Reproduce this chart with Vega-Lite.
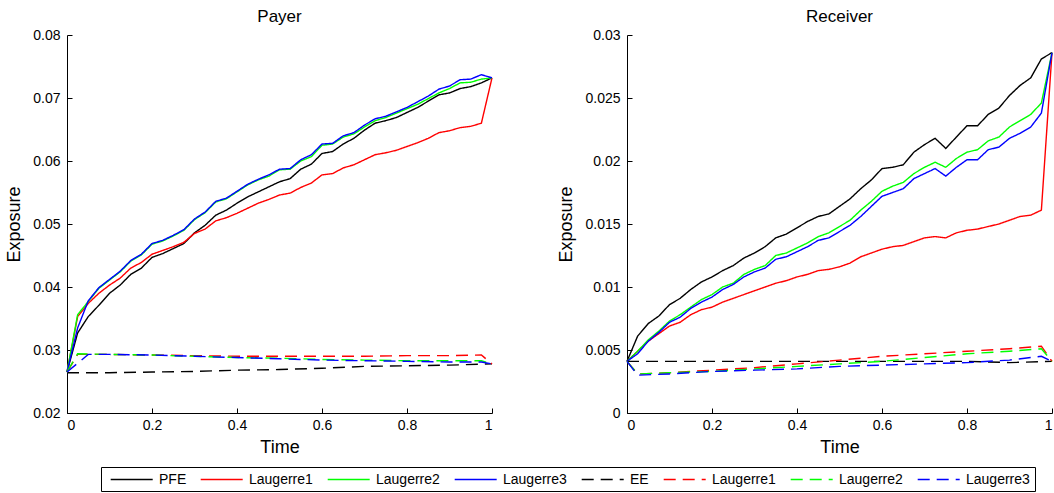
{
"$schema": "https://vega.github.io/schema/vega-lite/v6.json",
"padding": {"left": 5, "top": 8, "right": 0, "bottom": 0},
"background": "white",
"config": {
 "view": {"stroke": null},
 "font": "Liberation Sans",
 "axis": {"grid": false, "domainColor": "#000", "tickColor": "#000", "labelColor": "#000", "titleColor": "#000", "labelFont": "Liberation Sans", "titleFont": "Liberation Sans", "labelFontSize": 14, "titleFontSize": 18, "titleFontWeight": "normal", "tickSize": -5, "domainWidth": 1, "tickWidth": 1},
 "axisX": {"labelPadding": 10, "titlePadding": 6},
 "axisY": {"labelPadding": 12, "titlePadding": 9},
 "title": {"fontSize": 17, "fontWeight": "normal", "font": "Liberation Sans", "color": "#000", "offset": 2},
 "legend": {"title": null, "orient": "none", "legendX": 34, "legendY": 432, "direction": "horizontal", "columns": 8, "symbolType": "M-0.4,0H5.6", "symbolSize": 196, "symbolStrokeWidth": 1.4, "labelFontSize": 14, "labelColor": "#000", "labelFont": "Liberation Sans", "strokeColor": "#000", "fillColor": "#fff", "padding": 4.5, "columnPadding": 9, "labelOffset": 37.5, "labelLimit": 200}
},
"datasets": {"d": [
{"p":"P","s":"PFE","t":0,"v":0.0265},{"p":"P","s":"PFE","t":0.025,"v":0.0327},{"p":"P","s":"PFE","t":0.05,"v":0.0353},{"p":"P","s":"PFE","t":0.075,"v":0.0371},{"p":"P","s":"PFE","t":0.1,"v":0.0390},{"p":"P","s":"PFE","t":0.125,"v":0.0403},{"p":"P","s":"PFE","t":0.15,"v":0.0420},{"p":"P","s":"PFE","t":0.175,"v":0.0430},{"p":"P","s":"PFE","t":0.2,"v":0.0447},{"p":"P","s":"PFE","t":0.225,"v":0.0453},{"p":"P","s":"PFE","t":0.25,"v":0.0461},{"p":"P","s":"PFE","t":0.275,"v":0.0469},{"p":"P","s":"PFE","t":0.3,"v":0.0486},{"p":"P","s":"PFE","t":0.325,"v":0.0498},{"p":"P","s":"PFE","t":0.35,"v":0.0514},{"p":"P","s":"PFE","t":0.375,"v":0.0522},{"p":"P","s":"PFE","t":0.4,"v":0.0533},{"p":"P","s":"PFE","t":0.425,"v":0.0543},{"p":"P","s":"PFE","t":0.45,"v":0.0551},{"p":"P","s":"PFE","t":0.475,"v":0.0559},{"p":"P","s":"PFE","t":0.5,"v":0.0567},{"p":"P","s":"PFE","t":0.525,"v":0.0572},{"p":"P","s":"PFE","t":0.55,"v":0.0587},{"p":"P","s":"PFE","t":0.575,"v":0.0595},{"p":"P","s":"PFE","t":0.6,"v":0.0612},{"p":"P","s":"PFE","t":0.625,"v":0.0615},{"p":"P","s":"PFE","t":0.65,"v":0.0627},{"p":"P","s":"PFE","t":0.675,"v":0.0636},{"p":"P","s":"PFE","t":0.7,"v":0.0649},{"p":"P","s":"PFE","t":0.725,"v":0.0660},{"p":"P","s":"PFE","t":0.75,"v":0.0664},{"p":"P","s":"PFE","t":0.775,"v":0.0669},{"p":"P","s":"PFE","t":0.8,"v":0.0677},{"p":"P","s":"PFE","t":0.825,"v":0.0685},{"p":"P","s":"PFE","t":0.85,"v":0.0695},{"p":"P","s":"PFE","t":0.875,"v":0.0705},{"p":"P","s":"PFE","t":0.9,"v":0.0708},{"p":"P","s":"PFE","t":0.925,"v":0.0715},{"p":"P","s":"PFE","t":0.95,"v":0.0718},{"p":"P","s":"PFE","t":0.975,"v":0.0724},{"p":"P","s":"PFE","t":1,"v":0.0732},
{"p":"P","s":"Laugerre1","t":0,"v":0.0265},{"p":"P","s":"Laugerre1","t":0.025,"v":0.0353},{"p":"P","s":"Laugerre1","t":0.05,"v":0.0374},{"p":"P","s":"Laugerre1","t":0.075,"v":0.0390},{"p":"P","s":"Laugerre1","t":0.1,"v":0.0403},{"p":"P","s":"Laugerre1","t":0.125,"v":0.0414},{"p":"P","s":"Laugerre1","t":0.15,"v":0.0430},{"p":"P","s":"Laugerre1","t":0.175,"v":0.0439},{"p":"P","s":"Laugerre1","t":0.2,"v":0.0452},{"p":"P","s":"Laugerre1","t":0.225,"v":0.0458},{"p":"P","s":"Laugerre1","t":0.25,"v":0.0464},{"p":"P","s":"Laugerre1","t":0.275,"v":0.0471},{"p":"P","s":"Laugerre1","t":0.3,"v":0.0485},{"p":"P","s":"Laugerre1","t":0.325,"v":0.0492},{"p":"P","s":"Laugerre1","t":0.35,"v":0.0505},{"p":"P","s":"Laugerre1","t":0.375,"v":0.0510},{"p":"P","s":"Laugerre1","t":0.4,"v":0.0517},{"p":"P","s":"Laugerre1","t":0.425,"v":0.0525},{"p":"P","s":"Laugerre1","t":0.45,"v":0.0533},{"p":"P","s":"Laugerre1","t":0.475,"v":0.0539},{"p":"P","s":"Laugerre1","t":0.5,"v":0.0546},{"p":"P","s":"Laugerre1","t":0.525,"v":0.0549},{"p":"P","s":"Laugerre1","t":0.55,"v":0.0558},{"p":"P","s":"Laugerre1","t":0.575,"v":0.0565},{"p":"P","s":"Laugerre1","t":0.6,"v":0.0578},{"p":"P","s":"Laugerre1","t":0.625,"v":0.0580},{"p":"P","s":"Laugerre1","t":0.65,"v":0.0589},{"p":"P","s":"Laugerre1","t":0.675,"v":0.0594},{"p":"P","s":"Laugerre1","t":0.7,"v":0.0602},{"p":"P","s":"Laugerre1","t":0.725,"v":0.0610},{"p":"P","s":"Laugerre1","t":0.75,"v":0.0613},{"p":"P","s":"Laugerre1","t":0.775,"v":0.0617},{"p":"P","s":"Laugerre1","t":0.8,"v":0.0623},{"p":"P","s":"Laugerre1","t":0.825,"v":0.0629},{"p":"P","s":"Laugerre1","t":0.85,"v":0.0636},{"p":"P","s":"Laugerre1","t":0.875,"v":0.0645},{"p":"P","s":"Laugerre1","t":0.9,"v":0.0648},{"p":"P","s":"Laugerre1","t":0.925,"v":0.0653},{"p":"P","s":"Laugerre1","t":0.95,"v":0.0655},{"p":"P","s":"Laugerre1","t":0.975,"v":0.0660},{"p":"P","s":"Laugerre1","t":1,"v":0.0732},
{"p":"P","s":"Laugerre2","t":0,"v":0.0265},{"p":"P","s":"Laugerre2","t":0.025,"v":0.0356},{"p":"P","s":"Laugerre2","t":0.05,"v":0.0377},{"p":"P","s":"Laugerre2","t":0.075,"v":0.0398},{"p":"P","s":"Laugerre2","t":0.1,"v":0.0411},{"p":"P","s":"Laugerre2","t":0.125,"v":0.0424},{"p":"P","s":"Laugerre2","t":0.15,"v":0.0441},{"p":"P","s":"Laugerre2","t":0.175,"v":0.0451},{"p":"P","s":"Laugerre2","t":0.2,"v":0.0468},{"p":"P","s":"Laugerre2","t":0.225,"v":0.0473},{"p":"P","s":"Laugerre2","t":0.25,"v":0.0481},{"p":"P","s":"Laugerre2","t":0.275,"v":0.0490},{"p":"P","s":"Laugerre2","t":0.3,"v":0.0507},{"p":"P","s":"Laugerre2","t":0.325,"v":0.0518},{"p":"P","s":"Laugerre2","t":0.35,"v":0.0535},{"p":"P","s":"Laugerre2","t":0.375,"v":0.0540},{"p":"P","s":"Laugerre2","t":0.4,"v":0.0551},{"p":"P","s":"Laugerre2","t":0.425,"v":0.0562},{"p":"P","s":"Laugerre2","t":0.45,"v":0.0570},{"p":"P","s":"Laugerre2","t":0.475,"v":0.0576},{"p":"P","s":"Laugerre2","t":0.5,"v":0.0586},{"p":"P","s":"Laugerre2","t":0.525,"v":0.0587},{"p":"P","s":"Laugerre2","t":0.55,"v":0.0600},{"p":"P","s":"Laugerre2","t":0.575,"v":0.0607},{"p":"P","s":"Laugerre2","t":0.6,"v":0.0625},{"p":"P","s":"Laugerre2","t":0.625,"v":0.0627},{"p":"P","s":"Laugerre2","t":0.65,"v":0.0638},{"p":"P","s":"Laugerre2","t":0.675,"v":0.0643},{"p":"P","s":"Laugerre2","t":0.7,"v":0.0654},{"p":"P","s":"Laugerre2","t":0.725,"v":0.0664},{"p":"P","s":"Laugerre2","t":0.75,"v":0.0669},{"p":"P","s":"Laugerre2","t":0.775,"v":0.0676},{"p":"P","s":"Laugerre2","t":0.8,"v":0.0683},{"p":"P","s":"Laugerre2","t":0.825,"v":0.0690},{"p":"P","s":"Laugerre2","t":0.85,"v":0.0699},{"p":"P","s":"Laugerre2","t":0.875,"v":0.0708},{"p":"P","s":"Laugerre2","t":0.9,"v":0.0715},{"p":"P","s":"Laugerre2","t":0.925,"v":0.0724},{"p":"P","s":"Laugerre2","t":0.95,"v":0.0725},{"p":"P","s":"Laugerre2","t":0.975,"v":0.0730},{"p":"P","s":"Laugerre2","t":1,"v":0.0732},
{"p":"P","s":"Laugerre3","t":0,"v":0.0265},{"p":"P","s":"Laugerre3","t":0.025,"v":0.0335},{"p":"P","s":"Laugerre3","t":0.05,"v":0.0378},{"p":"P","s":"Laugerre3","t":0.075,"v":0.0399},{"p":"P","s":"Laugerre3","t":0.1,"v":0.0412},{"p":"P","s":"Laugerre3","t":0.125,"v":0.0425},{"p":"P","s":"Laugerre3","t":0.15,"v":0.0442},{"p":"P","s":"Laugerre3","t":0.175,"v":0.0452},{"p":"P","s":"Laugerre3","t":0.2,"v":0.0469},{"p":"P","s":"Laugerre3","t":0.225,"v":0.0474},{"p":"P","s":"Laugerre3","t":0.25,"v":0.0482},{"p":"P","s":"Laugerre3","t":0.275,"v":0.0491},{"p":"P","s":"Laugerre3","t":0.3,"v":0.0508},{"p":"P","s":"Laugerre3","t":0.325,"v":0.0519},{"p":"P","s":"Laugerre3","t":0.35,"v":0.0536},{"p":"P","s":"Laugerre3","t":0.375,"v":0.0541},{"p":"P","s":"Laugerre3","t":0.4,"v":0.0552},{"p":"P","s":"Laugerre3","t":0.425,"v":0.0563},{"p":"P","s":"Laugerre3","t":0.45,"v":0.0571},{"p":"P","s":"Laugerre3","t":0.475,"v":0.0578},{"p":"P","s":"Laugerre3","t":0.5,"v":0.0587},{"p":"P","s":"Laugerre3","t":0.525,"v":0.0588},{"p":"P","s":"Laugerre3","t":0.55,"v":0.0602},{"p":"P","s":"Laugerre3","t":0.575,"v":0.0610},{"p":"P","s":"Laugerre3","t":0.6,"v":0.0627},{"p":"P","s":"Laugerre3","t":0.625,"v":0.0628},{"p":"P","s":"Laugerre3","t":0.65,"v":0.0640},{"p":"P","s":"Laugerre3","t":0.675,"v":0.0645},{"p":"P","s":"Laugerre3","t":0.7,"v":0.0657},{"p":"P","s":"Laugerre3","t":0.725,"v":0.0667},{"p":"P","s":"Laugerre3","t":0.75,"v":0.0671},{"p":"P","s":"Laugerre3","t":0.775,"v":0.0678},{"p":"P","s":"Laugerre3","t":0.8,"v":0.0685},{"p":"P","s":"Laugerre3","t":0.825,"v":0.0694},{"p":"P","s":"Laugerre3","t":0.85,"v":0.0703},{"p":"P","s":"Laugerre3","t":0.875,"v":0.0714},{"p":"P","s":"Laugerre3","t":0.9,"v":0.0719},{"p":"P","s":"Laugerre3","t":0.925,"v":0.0729},{"p":"P","s":"Laugerre3","t":0.95,"v":0.0730},{"p":"P","s":"Laugerre3","t":0.975,"v":0.0737},{"p":"P","s":"Laugerre3","t":1,"v":0.0732},
{"p":"P","s":"EE","t":0,"v":0.0264},{"p":"P","s":"EE","t":0.1,"v":0.0264},{"p":"P","s":"EE","t":0.2,"v":0.0265},{"p":"P","s":"EE","t":0.3,"v":0.0266},{"p":"P","s":"EE","t":0.4,"v":0.0268},{"p":"P","s":"EE","t":0.5,"v":0.0269},{"p":"P","s":"EE","t":0.6,"v":0.0271},{"p":"P","s":"EE","t":0.7,"v":0.0274},{"p":"P","s":"EE","t":0.8,"v":0.0275},{"p":"P","s":"EE","t":0.9,"v":0.0276},{"p":"P","s":"EE","t":1,"v":0.0278},
{"p":"P","s":"Laugerre1_d","t":0,"v":0.0265},{"p":"P","s":"Laugerre1_d","t":0.025,"v":0.0293},{"p":"P","s":"Laugerre1_d","t":0.1,"v":0.0293},{"p":"P","s":"Laugerre1_d","t":0.2,"v":0.0292},{"p":"P","s":"Laugerre1_d","t":0.3,"v":0.0291},{"p":"P","s":"Laugerre1_d","t":0.4,"v":0.0290},{"p":"P","s":"Laugerre1_d","t":0.5,"v":0.0290},{"p":"P","s":"Laugerre1_d","t":0.6,"v":0.0290},{"p":"P","s":"Laugerre1_d","t":0.7,"v":0.0290},{"p":"P","s":"Laugerre1_d","t":0.8,"v":0.0291},{"p":"P","s":"Laugerre1_d","t":0.9,"v":0.0291},{"p":"P","s":"Laugerre1_d","t":0.975,"v":0.0292},{"p":"P","s":"Laugerre1_d","t":1,"v":0.0278},
{"p":"P","s":"Laugerre2_d","t":0,"v":0.0265},{"p":"P","s":"Laugerre2_d","t":0.025,"v":0.0294},{"p":"P","s":"Laugerre2_d","t":0.1,"v":0.0293},{"p":"P","s":"Laugerre2_d","t":0.2,"v":0.0292},{"p":"P","s":"Laugerre2_d","t":0.3,"v":0.0290},{"p":"P","s":"Laugerre2_d","t":0.4,"v":0.0288},{"p":"P","s":"Laugerre2_d","t":0.5,"v":0.0287},{"p":"P","s":"Laugerre2_d","t":0.6,"v":0.0285},{"p":"P","s":"Laugerre2_d","t":0.7,"v":0.0284},{"p":"P","s":"Laugerre2_d","t":0.8,"v":0.0283},{"p":"P","s":"Laugerre2_d","t":0.9,"v":0.0283},{"p":"P","s":"Laugerre2_d","t":0.975,"v":0.0283},{"p":"P","s":"Laugerre2_d","t":1,"v":0.0278},
{"p":"P","s":"Laugerre3_d","t":0,"v":0.0265},{"p":"P","s":"Laugerre3_d","t":0.025,"v":0.0279},{"p":"P","s":"Laugerre3_d","t":0.05,"v":0.0293},{"p":"P","s":"Laugerre3_d","t":0.1,"v":0.0293},{"p":"P","s":"Laugerre3_d","t":0.2,"v":0.0292},{"p":"P","s":"Laugerre3_d","t":0.3,"v":0.0290},{"p":"P","s":"Laugerre3_d","t":0.4,"v":0.0288},{"p":"P","s":"Laugerre3_d","t":0.5,"v":0.0286},{"p":"P","s":"Laugerre3_d","t":0.6,"v":0.0284},{"p":"P","s":"Laugerre3_d","t":0.7,"v":0.0283},{"p":"P","s":"Laugerre3_d","t":0.8,"v":0.0282},{"p":"P","s":"Laugerre3_d","t":0.9,"v":0.0281},{"p":"P","s":"Laugerre3_d","t":0.975,"v":0.0281},{"p":"P","s":"Laugerre3_d","t":1,"v":0.0278},
{"p":"R","s":"PFE","t":0,"v":0.0041},{"p":"R","s":"PFE","t":0.025,"v":0.0061},{"p":"R","s":"PFE","t":0.05,"v":0.0071},{"p":"R","s":"PFE","t":0.075,"v":0.0077},{"p":"R","s":"PFE","t":0.1,"v":0.0086},{"p":"R","s":"PFE","t":0.125,"v":0.0091},{"p":"R","s":"PFE","t":0.15,"v":0.0098},{"p":"R","s":"PFE","t":0.175,"v":0.0104},{"p":"R","s":"PFE","t":0.2,"v":0.0108},{"p":"R","s":"PFE","t":0.225,"v":0.0113},{"p":"R","s":"PFE","t":0.25,"v":0.0117},{"p":"R","s":"PFE","t":0.275,"v":0.0123},{"p":"R","s":"PFE","t":0.3,"v":0.0127},{"p":"R","s":"PFE","t":0.325,"v":0.0132},{"p":"R","s":"PFE","t":0.35,"v":0.0139},{"p":"R","s":"PFE","t":0.375,"v":0.0142},{"p":"R","s":"PFE","t":0.4,"v":0.0147},{"p":"R","s":"PFE","t":0.425,"v":0.0152},{"p":"R","s":"PFE","t":0.45,"v":0.0156},{"p":"R","s":"PFE","t":0.475,"v":0.0158},{"p":"R","s":"PFE","t":0.5,"v":0.0164},{"p":"R","s":"PFE","t":0.525,"v":0.0170},{"p":"R","s":"PFE","t":0.55,"v":0.0178},{"p":"R","s":"PFE","t":0.575,"v":0.0185},{"p":"R","s":"PFE","t":0.6,"v":0.0194},{"p":"R","s":"PFE","t":0.625,"v":0.0195},{"p":"R","s":"PFE","t":0.65,"v":0.0197},{"p":"R","s":"PFE","t":0.675,"v":0.0207},{"p":"R","s":"PFE","t":0.7,"v":0.0213},{"p":"R","s":"PFE","t":0.725,"v":0.0218},{"p":"R","s":"PFE","t":0.75,"v":0.0210},{"p":"R","s":"PFE","t":0.775,"v":0.0219},{"p":"R","s":"PFE","t":0.8,"v":0.0228},{"p":"R","s":"PFE","t":0.825,"v":0.0228},{"p":"R","s":"PFE","t":0.85,"v":0.0237},{"p":"R","s":"PFE","t":0.875,"v":0.0242},{"p":"R","s":"PFE","t":0.9,"v":0.0252},{"p":"R","s":"PFE","t":0.925,"v":0.0260},{"p":"R","s":"PFE","t":0.95,"v":0.0266},{"p":"R","s":"PFE","t":0.975,"v":0.0281},{"p":"R","s":"PFE","t":1,"v":0.0286},
{"p":"R","s":"Laugerre1","t":0,"v":0.0041},{"p":"R","s":"Laugerre1","t":0.025,"v":0.0049},{"p":"R","s":"Laugerre1","t":0.05,"v":0.0057},{"p":"R","s":"Laugerre1","t":0.075,"v":0.0063},{"p":"R","s":"Laugerre1","t":0.1,"v":0.0069},{"p":"R","s":"Laugerre1","t":0.125,"v":0.0072},{"p":"R","s":"Laugerre1","t":0.15,"v":0.0078},{"p":"R","s":"Laugerre1","t":0.175,"v":0.0082},{"p":"R","s":"Laugerre1","t":0.2,"v":0.0084},{"p":"R","s":"Laugerre1","t":0.225,"v":0.0088},{"p":"R","s":"Laugerre1","t":0.25,"v":0.0091},{"p":"R","s":"Laugerre1","t":0.275,"v":0.0094},{"p":"R","s":"Laugerre1","t":0.3,"v":0.0097},{"p":"R","s":"Laugerre1","t":0.325,"v":0.0100},{"p":"R","s":"Laugerre1","t":0.35,"v":0.0103},{"p":"R","s":"Laugerre1","t":0.375,"v":0.0105},{"p":"R","s":"Laugerre1","t":0.4,"v":0.0108},{"p":"R","s":"Laugerre1","t":0.425,"v":0.0110},{"p":"R","s":"Laugerre1","t":0.45,"v":0.0113},{"p":"R","s":"Laugerre1","t":0.475,"v":0.0114},{"p":"R","s":"Laugerre1","t":0.5,"v":0.0116},{"p":"R","s":"Laugerre1","t":0.525,"v":0.0119},{"p":"R","s":"Laugerre1","t":0.55,"v":0.0124},{"p":"R","s":"Laugerre1","t":0.575,"v":0.0127},{"p":"R","s":"Laugerre1","t":0.6,"v":0.0130},{"p":"R","s":"Laugerre1","t":0.625,"v":0.0132},{"p":"R","s":"Laugerre1","t":0.65,"v":0.0133},{"p":"R","s":"Laugerre1","t":0.675,"v":0.0136},{"p":"R","s":"Laugerre1","t":0.7,"v":0.0139},{"p":"R","s":"Laugerre1","t":0.725,"v":0.0140},{"p":"R","s":"Laugerre1","t":0.75,"v":0.0139},{"p":"R","s":"Laugerre1","t":0.775,"v":0.0143},{"p":"R","s":"Laugerre1","t":0.8,"v":0.0145},{"p":"R","s":"Laugerre1","t":0.825,"v":0.0146},{"p":"R","s":"Laugerre1","t":0.85,"v":0.0148},{"p":"R","s":"Laugerre1","t":0.875,"v":0.0150},{"p":"R","s":"Laugerre1","t":0.9,"v":0.0153},{"p":"R","s":"Laugerre1","t":0.925,"v":0.0156},{"p":"R","s":"Laugerre1","t":0.95,"v":0.0157},{"p":"R","s":"Laugerre1","t":0.975,"v":0.0161},{"p":"R","s":"Laugerre1","t":1,"v":0.0286},
{"p":"R","s":"Laugerre2","t":0,"v":0.0041},{"p":"R","s":"Laugerre2","t":0.025,"v":0.0049},{"p":"R","s":"Laugerre2","t":0.05,"v":0.0058},{"p":"R","s":"Laugerre2","t":0.075,"v":0.0065},{"p":"R","s":"Laugerre2","t":0.1,"v":0.0073},{"p":"R","s":"Laugerre2","t":0.125,"v":0.0078},{"p":"R","s":"Laugerre2","t":0.15,"v":0.0084},{"p":"R","s":"Laugerre2","t":0.175,"v":0.0090},{"p":"R","s":"Laugerre2","t":0.2,"v":0.0094},{"p":"R","s":"Laugerre2","t":0.225,"v":0.0100},{"p":"R","s":"Laugerre2","t":0.25,"v":0.0103},{"p":"R","s":"Laugerre2","t":0.275,"v":0.0110},{"p":"R","s":"Laugerre2","t":0.3,"v":0.0114},{"p":"R","s":"Laugerre2","t":0.325,"v":0.0117},{"p":"R","s":"Laugerre2","t":0.35,"v":0.0125},{"p":"R","s":"Laugerre2","t":0.375,"v":0.0127},{"p":"R","s":"Laugerre2","t":0.4,"v":0.0131},{"p":"R","s":"Laugerre2","t":0.425,"v":0.0135},{"p":"R","s":"Laugerre2","t":0.45,"v":0.0140},{"p":"R","s":"Laugerre2","t":0.475,"v":0.0143},{"p":"R","s":"Laugerre2","t":0.5,"v":0.0148},{"p":"R","s":"Laugerre2","t":0.525,"v":0.0153},{"p":"R","s":"Laugerre2","t":0.55,"v":0.0161},{"p":"R","s":"Laugerre2","t":0.575,"v":0.0168},{"p":"R","s":"Laugerre2","t":0.6,"v":0.0176},{"p":"R","s":"Laugerre2","t":0.625,"v":0.0180},{"p":"R","s":"Laugerre2","t":0.65,"v":0.0183},{"p":"R","s":"Laugerre2","t":0.675,"v":0.0190},{"p":"R","s":"Laugerre2","t":0.7,"v":0.0195},{"p":"R","s":"Laugerre2","t":0.725,"v":0.0199},{"p":"R","s":"Laugerre2","t":0.75,"v":0.0195},{"p":"R","s":"Laugerre2","t":0.775,"v":0.0202},{"p":"R","s":"Laugerre2","t":0.8,"v":0.0207},{"p":"R","s":"Laugerre2","t":0.825,"v":0.0209},{"p":"R","s":"Laugerre2","t":0.85,"v":0.0216},{"p":"R","s":"Laugerre2","t":0.875,"v":0.0219},{"p":"R","s":"Laugerre2","t":0.9,"v":0.0227},{"p":"R","s":"Laugerre2","t":0.925,"v":0.0232},{"p":"R","s":"Laugerre2","t":0.95,"v":0.0237},{"p":"R","s":"Laugerre2","t":0.975,"v":0.0246},{"p":"R","s":"Laugerre2","t":1,"v":0.0286},
{"p":"R","s":"Laugerre3","t":0,"v":0.0041},{"p":"R","s":"Laugerre3","t":0.025,"v":0.0047},{"p":"R","s":"Laugerre3","t":0.05,"v":0.0057},{"p":"R","s":"Laugerre3","t":0.075,"v":0.0064},{"p":"R","s":"Laugerre3","t":0.1,"v":0.0072},{"p":"R","s":"Laugerre3","t":0.125,"v":0.0076},{"p":"R","s":"Laugerre3","t":0.15,"v":0.0083},{"p":"R","s":"Laugerre3","t":0.175,"v":0.0088},{"p":"R","s":"Laugerre3","t":0.2,"v":0.0092},{"p":"R","s":"Laugerre3","t":0.225,"v":0.0098},{"p":"R","s":"Laugerre3","t":0.25,"v":0.0102},{"p":"R","s":"Laugerre3","t":0.275,"v":0.0108},{"p":"R","s":"Laugerre3","t":0.3,"v":0.0112},{"p":"R","s":"Laugerre3","t":0.325,"v":0.0115},{"p":"R","s":"Laugerre3","t":0.35,"v":0.0122},{"p":"R","s":"Laugerre3","t":0.375,"v":0.0124},{"p":"R","s":"Laugerre3","t":0.4,"v":0.0128},{"p":"R","s":"Laugerre3","t":0.425,"v":0.0132},{"p":"R","s":"Laugerre3","t":0.45,"v":0.0137},{"p":"R","s":"Laugerre3","t":0.475,"v":0.0139},{"p":"R","s":"Laugerre3","t":0.5,"v":0.0144},{"p":"R","s":"Laugerre3","t":0.525,"v":0.0149},{"p":"R","s":"Laugerre3","t":0.55,"v":0.0156},{"p":"R","s":"Laugerre3","t":0.575,"v":0.0164},{"p":"R","s":"Laugerre3","t":0.6,"v":0.0172},{"p":"R","s":"Laugerre3","t":0.625,"v":0.0175},{"p":"R","s":"Laugerre3","t":0.65,"v":0.0178},{"p":"R","s":"Laugerre3","t":0.675,"v":0.0186},{"p":"R","s":"Laugerre3","t":0.7,"v":0.0190},{"p":"R","s":"Laugerre3","t":0.725,"v":0.0194},{"p":"R","s":"Laugerre3","t":0.75,"v":0.0188},{"p":"R","s":"Laugerre3","t":0.775,"v":0.0195},{"p":"R","s":"Laugerre3","t":0.8,"v":0.0201},{"p":"R","s":"Laugerre3","t":0.825,"v":0.0201},{"p":"R","s":"Laugerre3","t":0.85,"v":0.0209},{"p":"R","s":"Laugerre3","t":0.875,"v":0.0211},{"p":"R","s":"Laugerre3","t":0.9,"v":0.0218},{"p":"R","s":"Laugerre3","t":0.925,"v":0.0222},{"p":"R","s":"Laugerre3","t":0.95,"v":0.0227},{"p":"R","s":"Laugerre3","t":0.975,"v":0.0238},{"p":"R","s":"Laugerre3","t":1,"v":0.0286},
{"p":"R","s":"EE","t":0,"v":0.0041},{"p":"R","s":"EE","t":0.2,"v":0.0041},{"p":"R","s":"EE","t":0.4,"v":0.0041},{"p":"R","s":"EE","t":0.6,"v":0.0041},{"p":"R","s":"EE","t":0.8,"v":0.0041},{"p":"R","s":"EE","t":0.9,"v":0.0040},{"p":"R","s":"EE","t":1,"v":0.0041},
{"p":"R","s":"Laugerre1_d","t":0,"v":0.0041},{"p":"R","s":"Laugerre1_d","t":0.025,"v":0.0031},{"p":"R","s":"Laugerre1_d","t":0.1,"v":0.0032},{"p":"R","s":"Laugerre1_d","t":0.2,"v":0.0034},{"p":"R","s":"Laugerre1_d","t":0.3,"v":0.0036},{"p":"R","s":"Laugerre1_d","t":0.4,"v":0.0039},{"p":"R","s":"Laugerre1_d","t":0.5,"v":0.0042},{"p":"R","s":"Laugerre1_d","t":0.6,"v":0.0045},{"p":"R","s":"Laugerre1_d","t":0.7,"v":0.0047},{"p":"R","s":"Laugerre1_d","t":0.8,"v":0.0049},{"p":"R","s":"Laugerre1_d","t":0.9,"v":0.0051},{"p":"R","s":"Laugerre1_d","t":0.975,"v":0.0053},{"p":"R","s":"Laugerre1_d","t":1,"v":0.0041},
{"p":"R","s":"Laugerre2_d","t":0,"v":0.0041},{"p":"R","s":"Laugerre2_d","t":0.025,"v":0.0031},{"p":"R","s":"Laugerre2_d","t":0.1,"v":0.0032},{"p":"R","s":"Laugerre2_d","t":0.2,"v":0.0033},{"p":"R","s":"Laugerre2_d","t":0.3,"v":0.0035},{"p":"R","s":"Laugerre2_d","t":0.4,"v":0.0037},{"p":"R","s":"Laugerre2_d","t":0.5,"v":0.0039},{"p":"R","s":"Laugerre2_d","t":0.6,"v":0.0041},{"p":"R","s":"Laugerre2_d","t":0.7,"v":0.0044},{"p":"R","s":"Laugerre2_d","t":0.8,"v":0.0047},{"p":"R","s":"Laugerre2_d","t":0.9,"v":0.0049},{"p":"R","s":"Laugerre2_d","t":0.975,"v":0.0051},{"p":"R","s":"Laugerre2_d","t":1,"v":0.0041},
{"p":"R","s":"Laugerre3_d","t":0,"v":0.0041},{"p":"R","s":"Laugerre3_d","t":0.025,"v":0.0030},{"p":"R","s":"Laugerre3_d","t":0.1,"v":0.0031},{"p":"R","s":"Laugerre3_d","t":0.2,"v":0.0033},{"p":"R","s":"Laugerre3_d","t":0.3,"v":0.0034},{"p":"R","s":"Laugerre3_d","t":0.4,"v":0.0035},{"p":"R","s":"Laugerre3_d","t":0.5,"v":0.0037},{"p":"R","s":"Laugerre3_d","t":0.6,"v":0.0038},{"p":"R","s":"Laugerre3_d","t":0.7,"v":0.0039},{"p":"R","s":"Laugerre3_d","t":0.8,"v":0.0040},{"p":"R","s":"Laugerre3_d","t":0.9,"v":0.0042},{"p":"R","s":"Laugerre3_d","t":0.975,"v":0.0045},{"p":"R","s":"Laugerre3_d","t":1,"v":0.0041}
]},
"data": {"name": "d"},
"bounds": "flush",
"spacing": 135,
"hconcat": [
 {
  "title": {"text": "Payer"},
  "width": 425, "height": 378,
  "transform": [{"filter": "datum.p == 'P'"}],
  "mark": {"type": "line", "strokeWidth": 1.4},
  "encoding": {
   "x": {"field": "t", "type": "quantitative", "scale": {"domain": [0, 1], "nice": false}, "axis": {"title": "Time", "values": [0, 0.2, 0.4, 0.6, 0.8, 1], "format": "~g"}},
   "y": {"field": "v", "type": "quantitative", "scale": {"domain": [0.02, 0.08], "nice": false, "zero": false}, "axis": {"title": "Exposure", "values": [0.02, 0.03, 0.04, 0.05, 0.06, 0.07, 0.08], "format": "~g"}},
   "color": {"field": "s", "type": "nominal",
     "scale": {"domain": ["PFE","Laugerre1","Laugerre2","Laugerre3","EE","Laugerre1_d","Laugerre2_d","Laugerre3_d"], "range": ["#000000","#ff0000","#00ff00","#0000ff","#000000","#ff0000","#00ff00","#0000ff"]},
     "legend": {"labelExpr": "replace(datum.label, '_d', '')"}},
   "strokeDash": {"field": "s", "type": "nominal",
     "scale": {"domain": ["PFE","Laugerre1","Laugerre2","Laugerre3","EE","Laugerre1_d","Laugerre2_d","Laugerre3_d"], "range": [[1,0],[1,0],[1,0],[1,0],[12,7],[12,7],[12,7],[12,7]]},
     "legend": {"labelExpr": "replace(datum.label, '_d', '')"}}
  }
 },
 {
  "title": {"text": "Receiver"},
  "width": 425, "height": 378,
  "transform": [{"filter": "datum.p == 'R'"}],
  "mark": {"type": "line", "strokeWidth": 1.4},
  "encoding": {
   "x": {"field": "t", "type": "quantitative", "scale": {"domain": [0, 1], "nice": false}, "axis": {"title": "Time", "values": [0, 0.2, 0.4, 0.6, 0.8, 1], "format": "~g"}},
   "y": {"field": "v", "type": "quantitative", "scale": {"domain": [0, 0.03], "nice": false}, "axis": {"title": "Exposure", "values": [0, 0.005, 0.01, 0.015, 0.02, 0.025, 0.03], "format": "~g"}},
   "color": {"field": "s", "type": "nominal",
     "scale": {"domain": ["PFE","Laugerre1","Laugerre2","Laugerre3","EE","Laugerre1_d","Laugerre2_d","Laugerre3_d"], "range": ["#000000","#ff0000","#00ff00","#0000ff","#000000","#ff0000","#00ff00","#0000ff"]},
     "legend": {"labelExpr": "replace(datum.label, '_d', '')"}},
   "strokeDash": {"field": "s", "type": "nominal",
     "scale": {"domain": ["PFE","Laugerre1","Laugerre2","Laugerre3","EE","Laugerre1_d","Laugerre2_d","Laugerre3_d"], "range": [[1,0],[1,0],[1,0],[1,0],[12,7],[12,7],[12,7],[12,7]]},
     "legend": {"labelExpr": "replace(datum.label, '_d', '')"}}
  }
 }
]
}
